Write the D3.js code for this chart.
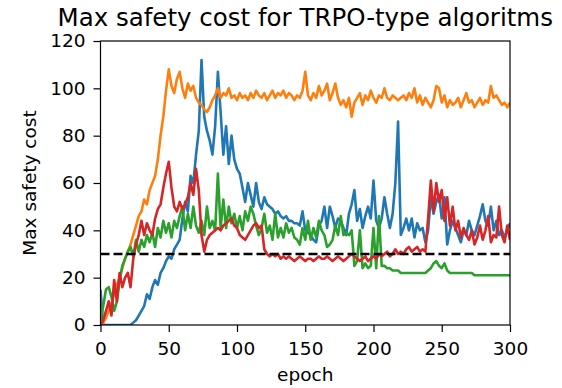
<!DOCTYPE html>
<html>
<head>
<meta charset="utf-8">
<script src="https://cdn.jsdelivr.net/npm/d3@7"></script>
<style>
  html, body { margin: 0; padding: 0; background: #fff; }
  svg text { font-family: "DejaVu Sans", sans-serif; fill: #000; }
</style>
</head>
<body>
<div id="chart"></div>
<script>
// epochs sampled every 2
const epochs = d3.range(0, 301, 2);

const blueCost = [15,0,0,0,0,0,0,0,0,0,0,0,1,2,4,6,8,13,11,16,
  19,17,22,24,27,29,28,32,34,36,45,52,48,63,60,72,82,112,88,82,
  78,72,84,107,90,72,84,68,80,70,66,64,58,52,60,55,50,60,52,49,
  54,51,50,49,47,48,46,45,46,44,44,43,43,42,48,40,39,38,36,35,
  42,44,50,41,50,46,41,45,44,41,38,47,51,57,44,49,41,46,50,45,
  61,44,41,45,54,47,41,47,60,86,38,41,45,40,45,37,43,40,41,35,
  40,54,47,52,55,45,54,34,40,44,41,38,35,40,38,44,40,38,42,46,
  51,44,42,50,40,44,38,40,37,40,43];

const orangeCost = [0,1,3,6,9,13,17,20,24,28,31,34,38,42,46,48,53,51,57,60,
  63,70,80,88,99,108,101,98,104,107,100,96,102,99,101,96,94,93,91,90,
  92,95,97,100,96,98,97,100,96,97,95,98,96,97,95,98,96,99,97,96,
  98,95,97,99,96,98,97,99,96,98,97,95,97,96,99,107,97,95,98,96,
  101,97,99,102,95,98,102,96,93,95,92,96,88,94,96,98,93,97,95,99,
  96,94,97,96,100,96,95,97,96,95,96,97,95,98,96,100,94,97,93,96,
  94,92,95,101,100,94,97,92,95,93,94,96,92,95,98,94,95,92,94,96,
  93,95,94,101,96,97,95,93,94,92,94];

const greenCost = [2,8,15,16,12,6,10,19,25,28,31,33,29,36,31,36,33,38,35,39,
  33,41,37,44,39,43,37,44,41,46,50,40,47,41,50,42,39,44,38,50,
  41,44,40,64,41,53,41,50,43,47,41,46,40,48,44,50,47,42,38,41,
  47,39,42,36,47,37,41,37,43,39,41,37,36,34,41,36,44,36,41,37,
  44,40,38,33,34,36,42,38,46,38,39,38,40,25,27,40,24,26,24,25,
  41,24,46,25,25,24,24,23,23,23,22,22,22,22,22,22,22,22,22,22,
  23,24,26,27,25,24,26,23,22,22,22,22,22,22,22,22,22,21,21,21,
  21,21,21,21,21,21,21,21,21,21,21];

const redCost = [0,2,6,10,4,19,10,22,16,20,22,16,28,34,38,44,38,43,40,38,
  45,49,51,58,64,69,58,50,48,52,49,51,54,60,55,66,57,38,31,36,
  38,39,40,41,40,42,43,44,45,42,41,38,37,36,38,40,42,43,41,42,
  32,30,29,30,29,30,28,29,28,29,28,27,28,29,28,27,28,28,27,28,
  29,28,28,29,28,27,28,29,28,27,28,29,30,29,28,27,28,29,27,28,
  29,28,30,29,30,31,29,30,32,30,31,30,32,33,31,32,33,31,32,31,
  45,61,48,60,52,57,44,54,42,50,40,44,37,41,38,36,40,34,37,42,
  36,40,46,35,38,37,50,38,35,42,36];

const costLimit = 30;

const seriesList = [
  { name: "blue", color: "#1f77b4", values: blueCost },
  { name: "orange", color: "#ff7f0e", values: orangeCost },
  { name: "green", color: "#2ca02c", values: greenCost },
  { name: "red", color: "#d62728", values: redCost }
];

const xTicks = [0, 50, 100, 150, 200, 250, 300];
const yTicks = [0, 20, 40, 60, 80, 100, 120];

const width = 562, height = 388;
const margin = { top: 41, right: 52, bottom: 63, left: 100.5 };

const svg = d3.select("#chart").append("svg")
  .attr("width", width)
  .attr("height", height);

const x = d3.scaleLinear().domain([0, 300]).range([margin.left, width - margin.right]);
const y = d3.scaleLinear().domain([0, 120]).range([height - margin.bottom, margin.top]);

svg.append("clipPath").attr("id", "plotClip")
  .append("rect")
  .attr("x", margin.left).attr("y", margin.top)
  .attr("width", x(300) - x(0)).attr("height", y(0) - y(120));

const line = d3.line()
  .x((d, i) => x(epochs[i]))
  .y(d => y(d));

const plot = svg.append("g").attr("clip-path", "url(#plotClip)");

plot.selectAll("path.series")
  .data(seriesList)
  .join("path")
  .attr("class", "series")
  .attr("fill", "none")
  .attr("stroke", d => d.color)
  .attr("stroke-width", 2.6)
  .attr("stroke-linejoin", "round")
  .attr("d", d => line(d.values));

// constraint line
plot.append("line")
  .attr("x1", x(0)).attr("x2", x(300))
  .attr("y1", y(costLimit)).attr("y2", y(costLimit))
  .attr("stroke", "#000")
  .attr("stroke-width", 2.6)
  .attr("stroke-dasharray", "9,4");

// axes
const xAxis = svg.append("g")
  .attr("transform", `translate(0,${y(0)})`)
  .call(d3.axisBottom(x).tickValues(xTicks).tickSize(7).tickPadding(10));
const yAxis = svg.append("g")
  .attr("transform", `translate(${x(0)},0)`)
  .call(d3.axisLeft(y).tickValues(yTicks).tickSize(7).tickPadding(8));

[xAxis, yAxis].forEach(g => {
  g.select(".domain").remove();
  g.selectAll("line").attr("stroke", "#000").attr("stroke-width", 1.2);
  g.selectAll("text").style("font-size", "18.5px").attr("fill", "#000");
});

// frame
svg.append("rect")
  .attr("x", x(0)).attr("y", y(120))
  .attr("width", x(300) - x(0)).attr("height", y(0) - y(120))
  .attr("fill", "none")
  .attr("stroke", "#000")
  .attr("stroke-width", 1.2);

svg.append("text")
  .attr("x", (x(0) + x(300)) / 2)
  .attr("y", 26)
  .attr("text-anchor", "middle")
  .style("font-size", "24.5px")
  .text("Max safety cost for TRPO-type algoritms");

svg.append("text")
  .attr("x", (x(0) + x(300)) / 2)
  .attr("y", 381)
  .attr("text-anchor", "middle")
  .style("font-size", "18.5px")
  .text("epoch");

svg.append("text")
  .attr("transform", `translate(36,${(y(0) + y(120)) / 2}) rotate(-90)`)
  .attr("text-anchor", "middle")
  .style("font-size", "18.5px")
  .text("Max safety cost");
</script>
</body>
</html>
